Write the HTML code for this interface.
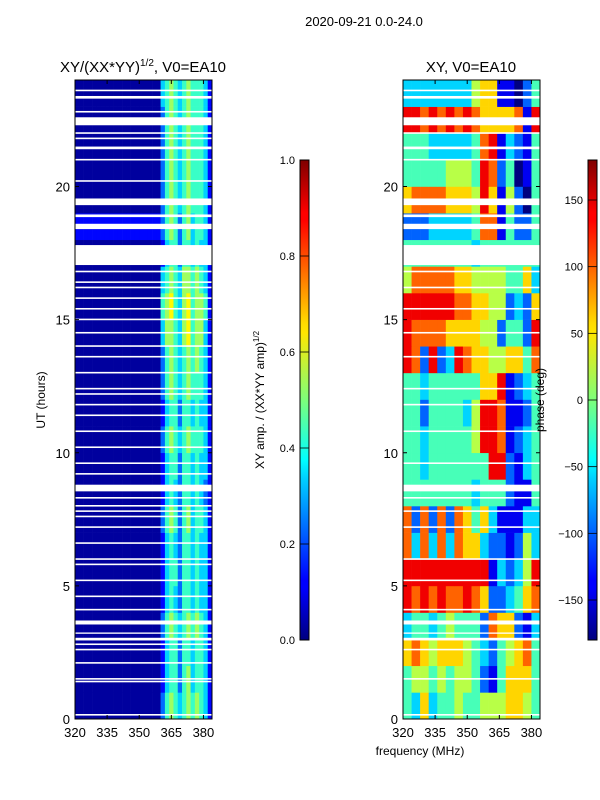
<!DOCTYPE html>
<html><head><meta charset="utf-8"><style>
body{margin:0;background:#fff;}
svg{display:block;font-family:"Liberation Sans",sans-serif;}
</style></head><body>
<svg id="fig" width="600" height="800" viewBox="0 0 600 800">
<text x="364" y="26" font-size="13" text-anchor="middle">2020-09-21 0.0-24.0</text>
<text x="143" y="72" font-size="15" text-anchor="middle">XY/(XX*YY)<tspan font-size="10" dy="-6">1/2</tspan><tspan dy="6">, V0=EA10</tspan></text>
<text x="471" y="72" font-size="15" text-anchor="middle">XY, V0=EA10</text>
<text x="420" y="755" font-size="12" text-anchor="middle">frequency (MHz)</text>
<text transform="translate(45,400) rotate(-90)" font-size="12" text-anchor="middle">UT (hours)</text>
<text transform="translate(264,400) rotate(-90)" font-size="12" text-anchor="middle">XY amp. / (XX*YY amp)<tspan font-size="8" dy="-5">1/2</tspan></text>
<g id="left"></g>
<g id="right"></g>
<g id="axes"></g>
<text transform="translate(544,400) rotate(-90)" font-size="12" text-anchor="middle">phase (deg)</text>
<defs>
<linearGradient id="jet" x1="0" y1="1" x2="0" y2="0">
<stop offset="0" stop-color="#00007f"/><stop offset="0.11" stop-color="#0000ff"/><stop offset="0.125" stop-color="#0000ff"/>
<stop offset="0.34" stop-color="#00d4ff"/><stop offset="0.375" stop-color="#00ffff"/><stop offset="0.5" stop-color="#7dff7a"/>
<stop offset="0.64" stop-color="#ffe600"/><stop offset="0.66" stop-color="#ffdb00"/><stop offset="0.875" stop-color="#ff0000"/>
<stop offset="0.89" stop-color="#ff0000"/><stop offset="1" stop-color="#7f0000"/>
</linearGradient>
</defs>
<g id="cbars"></g>
</svg>
<script>
// ---- data ----
const freqMin = 320, freqMax = 384;
const utMin = 0, utMax = 24;
const xTicks = [320, 335, 350, 365, 380];
const yTicks = [0, 5, 10, 15, 20];
const ampTicks = [0.0, 0.2, 0.4, 0.6, 0.8, 1.0];
const phaseTicks = [-150, -100, -50, 0, 50, 100, 150];
// amplitude grid: row index = hour (0 bottom), 32 columns of 2 MHz, digit d -> d/10+0.03
const ampRows = [
"00000000000000000000245434545431",
"00000000000000000000134424534431",
"00000000000000000000134424434431",
"00000000000000000000245434545431",
"00000000000000000000134324434331",
"00000000000000000000134424434331",
"00000000000000000000134324434331",
"00000000000000000000245424534431",
"00000000000000000000134324434321",
"00000000000000000000134424434331",
"00000000000000000000245434544431",
"00000000000000000000134424434331",
"00000000000000000000245434544431",
"00000000000000000000245434545431",
"00000000000000000000355435645531",
"00000000000000000000456435645541",
"00000000000000000000345435545431",
"00000000000000000000134424434331",
"11111111111111111111245424534431",
"00000000000000000000245434544431",
"00000000000000000000245434544431",
"00000000000000000000245434544431",
"00000000000000000000245434544431",
"00000000000000000000345434544431"
];
// phase grid: 16 columns of 4 MHz, digit d -> d/9*360-180
const phaseRows = [
"4363445445556654","4554545542146664","6765666543245674","3443454442766213",
"8787877876223467","8888888888132358","7373737663221253","7272727646311133",
"4444444434442114","4434444444882134","4434444458871234","4424444358871124",
"4434444446681234","8728238766556647","8777766665524428","8888887766552326",
"5777776655554463","4444444434444444","2223333347714224","6777766658615204",
"4444455548724014","4443333347813214","8878787876666718","3333333356611024"
];
// white (flagged) UT ranges
const gapStart = [2.95, 3.2, 3.55, 8.55, 17.05, 18.4, 18.85, 19.3, 21.4, 22.3, 23.3];
const gapEnd   = [3.05, 3.25, 3.7, 8.8, 17.8, 18.6, 18.95, 19.55, 21.5, 22.6, 23.4];
// thin flagged lines (UT)
const thinGaps = [0.15,1.4,1.5,2.1,2.6,2.8,4.1,4.6,5.2,5.8,6.0,6.6,7.2,7.6,7.8,8.0,8.3,9.2,9.6,10.2,10.8,11.4,11.8,12.2,12.4,13.0,13.6,14.0,14.5,15.0,15.4,15.8,16.2,16.4,16.8,20.2,21.0,21.8,22.0,22.8,23.6];

// ---- scales ----
const NS = "http://www.w3.org/2000/svg";
const panels = [{x0:75, x1:212}, {x0:403, x1:540}];
const Y0 = 719, Y1 = 80;
function xScale(p, f){ return panels[p].x0 + (f - freqMin)/(freqMax - freqMin)*(panels[p].x1 - panels[p].x0); }
function yScale(u){ return Y0 - (u - utMin)/(utMax - utMin)*(Y0 - Y1); }
function cbY(v, lo, hi){ return 640 - (v - lo)/(hi - lo)*480; }
function clamp(v){ return Math.max(0, Math.min(1, v)); }
function jet(v){
  const r = clamp(1.5 - Math.abs(4*v - 3)), g = clamp(1.5 - Math.abs(4*v - 2)), b = clamp(1.5 - Math.abs(4*v - 1));
  return `rgb(${Math.round(r*255)},${Math.round(g*255)},${Math.round(b*255)})`;
}
function mk(tag, attrs, parent){ const e = document.createElementNS(NS, tag); for (const k in attrs) e.setAttribute(k, attrs[k]); parent.appendChild(e); return e; }

// ---- heatmaps ----
function drawGrid(p, rows, toVal, g, name){
  const nR = rows.length;
  rows.forEach((row, i) => {
    const nC = row.length, df = (freqMax - freqMin)/nC, du = (utMax - utMin)/nR;
    for (let j = 0; j < nC; j++){
      const x = xScale(p, freqMin + j*df), x2 = xScale(p, freqMin + (j+1)*df);
      const y = yScale(utMin + (i+1)*du), y2 = yScale(utMin + i*du);
      const r = mk('rect', {x:x, y:y, width:x2 - x + 0.3, height:y2 - y + 0.3, fill:jet(toVal(+row[j]))}, g);
      
      
    }
  });
  gapStart.forEach((s, k) => {
    const r = mk('rect', {x:panels[p].x0, y:yScale(gapEnd[k]), width:panels[p].x1 - panels[p].x0, height:yScale(s) - yScale(gapEnd[k]), fill:'#fff'}, g);
    
    
  });
  thinGaps.forEach((u, k) => {
    if (p === 1 && k % 2) return;
    const r = mk('rect', {x:panels[p].x0, y:yScale(u) - 1, width:panels[p].x1 - panels[p].x0, height:1.6, fill:'#fff'}, g);
    
    
  });
}
drawGrid(0, ampRows, d => d/10 + 0.03, document.getElementById('left'), 'amp-cell');
drawGrid(1, phaseRows, d => d/9, document.getElementById('right'), 'phase-cell');

// ---- axes ----
const ax = document.getElementById('axes');
[0, 1].forEach(p => {
  const fr = mk('rect', {x:panels[p].x0, y:Y1, width:panels[p].x1 - panels[p].x0, height:Y0 - Y1, fill:'none', stroke:'#000', 'stroke-width':1}, ax);
  
  
  xTicks.forEach(t => {
    const x = xScale(p, t);
    mk('line', {x1:x, y1:Y0, x2:x, y2:Y0 - 4, stroke:'#000'}, ax);
    mk('line', {x1:x, y1:Y1, x2:x, y2:Y1 + 4, stroke:'#000'}, ax);
    const tx = mk('text', {x:x, y:Y0 + 18, 'font-size':13, 'text-anchor':'middle'}, ax);
    tx.textContent = t;
    
    
  });
  yTicks.forEach(t => {
    const y = yScale(t);
    mk('line', {x1:panels[p].x0, y1:y, x2:panels[p].x0 + 4, y2:y, stroke:'#000'}, ax);
    mk('line', {x1:panels[p].x1, y1:y, x2:panels[p].x1 - 4, y2:y, stroke:'#000'}, ax);
    const tx = mk('text', {x:panels[p].x0 - 5, y:y + 5, 'font-size':13, 'text-anchor':'end'}, ax);
    tx.textContent = t;
    
    
  });
});

// ---- colorbars ----
const cb = document.getElementById('cbars');
function colorbar(x, ticks, lo, hi, name, fmt){
  const r = mk('rect', {x:x, y:160, width:9, height:480, fill:'url(#jet)', stroke:'#000', 'stroke-width':1}, cb);
  
  
  ticks.forEach(t => {
    const y = cbY(t, lo, hi);
    mk('line', {x1:x, y1:y, x2:x + 9, y2:y, stroke:'#000', 'stroke-width':0.8}, cb);
    const tx = mk('text', {x:x - 5, y:y + 4, 'font-size':11, 'text-anchor':'end'}, cb);
    tx.textContent = fmt(t);
    
    
  });
}
colorbar(300, ampTicks, 0, 1, 'amp-colorbar', t => t.toFixed(1));
colorbar(588, phaseTicks, -180, 180, 'phase-colorbar', t => t < 0 ? '\u2212' + (-t) : '' + t);
</script>
</body></html>
